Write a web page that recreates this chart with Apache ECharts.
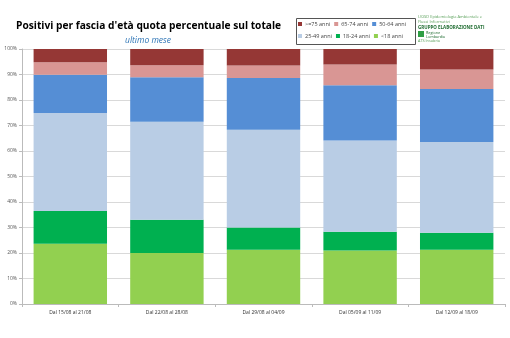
<!DOCTYPE html>
<html><head><meta charset="utf-8">
<script src="https://cdn.jsdelivr.net/npm/echarts@6/dist/echarts.min.js"></script>
<style>html,body{margin:0;padding:0;background:#fff}#c{width:510px;height:338px}</style>
</head><body><div id="c"></div>
<script>
const categories = ["Dal 15/08 al 21/08","Dal 22/08 al 28/08","Dal 29/08 al 04/09","Dal 05/09 al 11/09","Dal 12/09 al 18/09"];
const under18 = [23.6, 20.0, 21.3, 21.0, 21.3];
const age18_24 = [12.9, 13.0, 8.7, 7.3, 6.6];
const age25_49 = [38.4, 38.5, 38.3, 35.8, 35.6];
const age50_64 = [15.0, 17.4, 20.3, 21.7, 20.8];
const age65_74 = [4.9, 4.7, 4.9, 8.1, 7.7];
const over75 = [5.2, 6.4, 6.5, 6.1, 8.0];
const yTicks = [0,10,20,30,40,50,60,70,80,90,100];
const legendRow1 = [">=75 anni","65-74 anni","50-64 anni"];
const legendRow2 = ["25-49 anni","18-24 anni","<18 anni"];

const seriesDefs = [
  {name:"<18 anni", data: under18, color:"#92d050"},
  {name:"18-24 anni", data: age18_24, color:"#00b050"},
  {name:"25-49 anni", data: age25_49, color:"#b9cde5"},
  {name:"50-64 anni", data: age50_64, color:"#558ed5"},
  {name:"65-74 anni", data: age65_74, color:"#d99694"},
  {name:">=75 anni", data: over75, color:"#953735"}
];

const legendCommon = {
  itemGap:4, itemWidth:4, itemHeight:4, icon:"rect", padding:0,
  textStyle:{fontFamily:"Open Sans", fontSize:5.5, color:"#444", width:29, padding:[0,0,0,-2]}
};

const chart = echarts.init(document.getElementById('c'));
chart.setOption({
  animation:false,
  title:[
    {text:"Positivi per fascia d'età quota percentuale sul totale", left:11, top:16,
     textStyle:{fontFamily:"Open Sans", fontSize:10.2, fontWeight:"bold", color:"#000"}},
    {text:"ultimo mese", left:120, top:31,
     textStyle:{fontFamily:"Open Sans", fontSize:8.5, fontStyle:"italic", fontWeight:"normal", color:"#2e75b6"}}
  ],
  legend:[
    Object.assign({left:298, top:21, data:legendRow1}, legendCommon),
    Object.assign({left:298, top:33, data:legendRow2}, legendCommon)
  ],
  graphic:[
    {type:"rect", left:294, top:16, shape:{width:119, height:26}, style:{fill:"none", stroke:"#555", lineWidth:1}},
    {type:"text", left:418, top:14, style:{text:"UOSD Epidemiologia Ambientale e\nFlussi Informativi", fontSize:4, fill:"#5aa05a", lineHeight:5, fontFamily:"Open Sans"}},
    {type:"text", left:418, top:25, style:{text:"GRUPPO ELABORAZIONE DATI", fontSize:4.5, fontWeight:"bold", fill:"#1d6b2f", fontFamily:"Open Sans"}},
    {type:"rect", left:418, top:31, shape:{width:6, height:6}, style:{fill:"#2e9e44"}},
    {type:"text", left:426, top:31, style:{text:"Regione\nLombardia", fontSize:3.8, fill:"#1d6b2f", lineHeight:4, fontFamily:"Open Sans"}},
    {type:"text", left:418, top:39, style:{text:"ATS Insubria", fontSize:3.8, fill:"#5aa05a", fontFamily:"Open Sans"}}
  ],
  grid:{left:22, right:5, top:49, bottom:34},
  xAxis:{type:"category", data:categories,
    axisLine:{lineStyle:{color:"#bbb"}},
    axisTick:{show:true, length:3, lineStyle:{color:"#bbb"}},
    axisLabel:{fontSize:5, color:"#333", fontFamily:"Open Sans", margin:6, interval:0}
  },
  yAxis:{type:"value", min:0, max:100, interval:10,
    axisLine:{show:true, lineStyle:{color:"#bbb"}},
    axisTick:{show:true, length:3, lineStyle:{color:"#bbb"}},
    splitLine:{lineStyle:{color:"#d9d9d9", width:1}},
    axisLabel:{fontSize:5, color:"#555", fontFamily:"Open Sans", margin:5,
      formatter:function(v){return yTicks.indexOf(v)>=0 ? v+"%" : "";}}
  },
  series: seriesDefs.map(s=>({
    name:s.name, type:"bar", stack:"tot", data:s.data, barCategoryGap:"24%",
    itemStyle:{color:s.color}
  }))
});
</script></body></html>
